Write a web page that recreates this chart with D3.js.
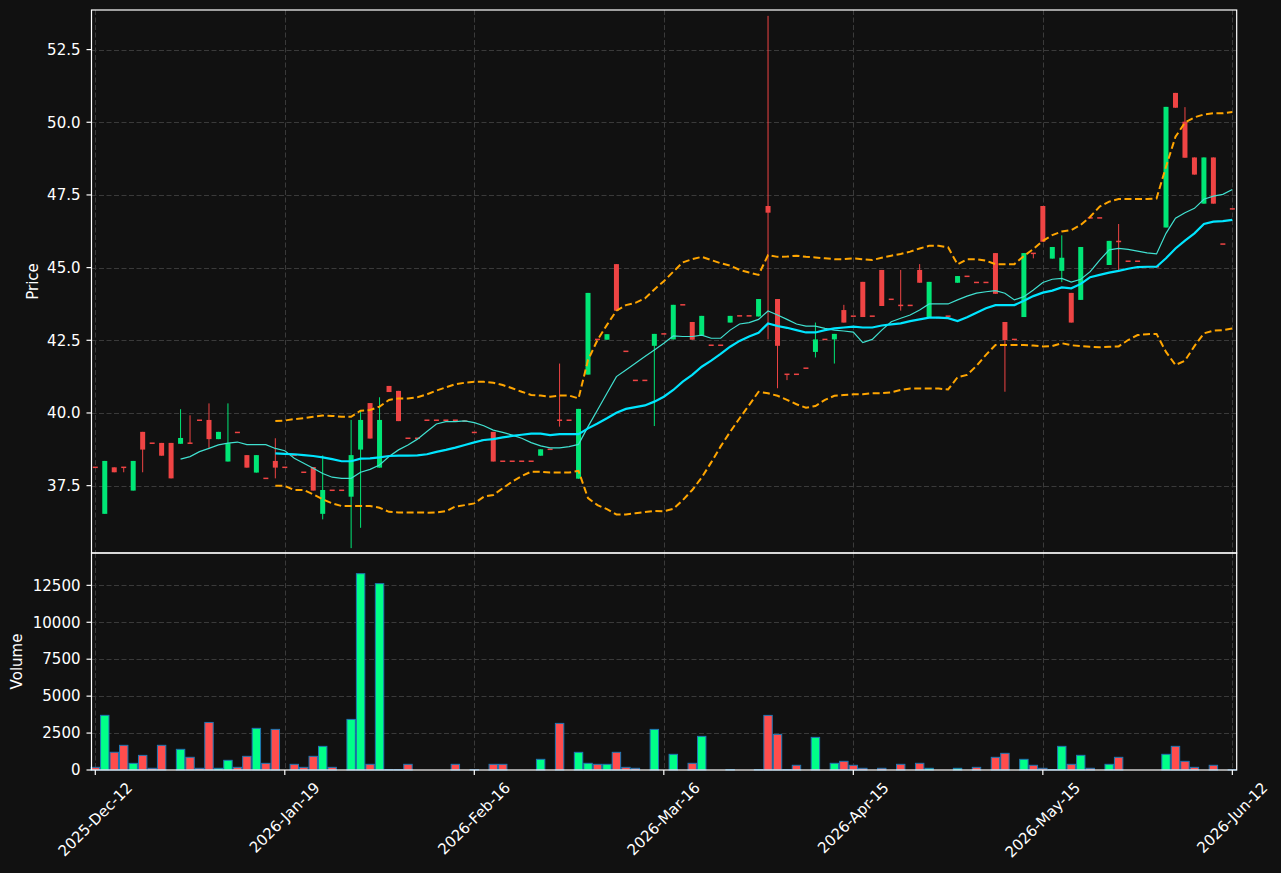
<!DOCTYPE html>
<html>
<head>
<meta charset="utf-8">
<script src="https://cdnjs.cloudflare.com/ajax/libs/d3/7.8.5/d3.min.js"></script>
<style>
  body { margin: 0; background: #111111; }
  #chart { width: 1281px; height: 873px; }
  text { font-family: "DejaVu Sans", sans-serif; }
</style>
</head>
<body>
<div id="chart"></div>
<script>
/*
#################################################
SECTION 1: DATA
#################################################
*/
var tickLabels = ["2025-Dec-12", "2026-Jan-19", "2026-Feb-16", "2026-Mar-16", "2026-Apr-15", "2026-May-15", "2026-Jun-12"];
var tickIndex = [0, 20, 40, 60, 80, 100, 120];
var priceTicks = [37.5, 40.0, 42.5, 45.0, 47.5, 50.0, 52.5];
var volumeTicks = [0, 2500, 5000, 7500, 10000, 12500];

var opens = [38.13,36.53,38.13,38.13,37.33,39.35,38.96,38.97,38.97,38.94,38.96,39.75,39.76,39.10,38.33,39.33,38.55,37.95,37.75,38.35,
  38.13,38.55,37.96,38.14,36.53,37.34,37.34,37.12,38.74,40.34,38.12,40.93,40.76,39.13,39.13,39.75,39.75,39.75,39.75,39.72,
  39.33,39.07,39.35,38.34,38.34,38.34,38.34,38.53,38.75,39.75,39.75,37.74,41.32,42.53,42.52,45.12,42.12,41.12,41.12,42.31,
  42.72,42.53,43.72,43.13,42.68,42.33,42.33,43.11,43.34,43.34,43.32,47.12,43.92,41.33,41.33,41.54,42.10,42.53,42.53,43.54,
  43.33,44.51,43.33,44.92,43.91,43.70,43.70,44.92,43.30,43.28,43.33,44.48,44.70,44.49,44.49,45.50,43.13,42.53,43.30,45.49,
  47.12,45.31,44.89,44.13,43.89,46.71,46.71,45.09,45.90,45.22,45.22,45.03,45.03,46.38,51.01,50.02,48.79,47.20,48.79,45.81,47.02];
var highs = [38.13,38.35,38.13,38.13,38.35,39.35,38.96,38.97,38.97,40.13,39.92,39.75,40.33,39.35,40.33,39.33,38.55,38.55,37.75,39.13,
  38.13,38.55,37.96,38.14,38.54,37.34,37.34,39.76,40.10,40.34,40.54,40.93,40.76,39.13,39.13,39.75,39.75,39.75,39.75,39.72,
  39.33,39.07,39.35,38.34,38.34,38.34,38.34,38.75,38.75,41.70,39.75,40.14,44.13,42.53,42.71,45.12,42.12,41.12,41.12,42.72,
  42.72,43.72,43.72,43.13,43.34,42.33,42.33,43.34,43.34,43.34,43.92,53.66,43.92,41.33,41.33,41.54,43.11,42.53,42.72,43.72,
  43.33,44.51,43.33,44.92,43.91,44.92,43.70,45.12,44.51,43.28,43.33,44.71,44.70,44.49,44.49,45.50,43.13,42.53,45.50,45.49,
  47.12,45.71,46.11,44.13,45.71,46.71,46.71,45.92,46.50,45.22,45.22,45.03,45.03,50.53,51.01,50.52,48.79,48.79,48.79,45.81,47.02];
var lows = [38.13,36.53,37.96,37.96,37.33,37.96,38.96,38.53,37.75,38.94,38.96,39.75,38.78,39.10,38.33,39.33,38.12,37.95,37.75,37.75,
  38.13,38.55,37.96,37.33,36.34,37.34,37.34,35.35,36.05,39.12,38.12,40.72,39.72,39.13,39.13,39.75,39.75,39.75,39.75,39.72,
  39.33,39.07,38.33,38.34,38.34,38.34,38.34,38.53,38.75,39.53,39.75,37.74,41.32,42.53,42.52,43.52,42.12,41.12,41.12,39.55,
  42.72,42.53,43.72,42.52,42.68,42.33,42.33,43.11,43.34,43.34,43.32,42.53,40.85,41.13,41.33,41.54,41.91,42.53,41.70,43.11,
  43.33,43.30,43.33,43.68,43.91,43.52,43.70,44.48,43.30,43.28,43.33,44.48,44.70,44.49,44.49,44.10,40.73,42.53,43.30,45.32,
  45.89,45.31,44.50,43.11,43.89,46.71,46.71,45.09,44.89,45.22,45.22,45.03,45.03,46.38,50.50,48.78,48.20,47.20,47.20,45.81,47.02];
var closes = [38.13,38.35,37.96,38.13,38.35,38.74,38.96,38.53,37.75,39.14,38.96,39.75,39.10,39.35,38.96,39.33,38.12,38.55,37.75,38.12,
  38.13,38.55,37.96,37.33,37.35,37.34,37.34,38.55,39.76,39.12,39.76,40.72,39.72,39.13,39.13,39.75,39.75,39.75,39.75,39.72,
  39.33,39.07,38.33,38.34,38.34,38.34,38.34,38.75,38.75,39.75,39.75,40.14,44.13,42.53,42.71,43.52,42.12,41.12,41.12,42.72,
  42.72,43.72,43.72,42.52,43.34,42.33,42.33,43.34,43.34,43.34,43.92,46.89,42.31,41.33,41.33,41.54,42.53,42.53,42.72,43.11,
  43.33,43.30,43.33,43.68,43.91,43.70,43.70,44.48,44.51,43.28,43.33,44.71,44.70,44.49,44.49,44.10,42.51,42.53,45.50,45.49,
  45.89,45.71,45.34,43.11,45.71,46.71,46.71,45.92,45.90,45.22,45.22,45.03,45.03,50.53,50.50,48.78,48.20,48.79,47.20,45.81,47.02];
var volumes = [180,3700,1200,1670,450,990,115,1670,0,1400,860,115,3220,115,655,180,925,2820,450,2750,
  0,385,180,925,1600,180,0,3425,13290,385,12615,30,30,385,0,0,0,0,385,0,
  20,0,385,385,0,0,0,723,0,3155,0,1196,453,385,385,1196,180,115,0,2750,
  0,1061,0,453,2277,0,0,30,0,0,30,3696,2412,30,318,0,2209,0,453,588,
  318,115,0,115,0,385,0,453,115,0,0,115,0,180,0,858,1128,0,723,318,
  115,30,1601,385,993,115,0,385,858,0,0,0,0,1061,1601,588,180,0,318,0,20];

// moving averages start at index 9 (10-day) and 19 (20-day and bands)
var ma10Start = 9;
var ma10 = [38.41,38.50,38.67,38.78,38.90,38.96,39.00,38.91,38.91,38.91,38.78,
  38.70,38.44,38.27,38.10,37.92,37.79,37.75,37.75,37.96,38.06,38.21,38.50,38.73,38.90,39.10,39.36,39.62,39.70,39.70,39.73,
  39.67,39.56,39.41,39.33,39.24,39.13,38.98,38.87,38.80,38.80,38.84,38.92,39.53,40.10,40.68,41.25,41.48,41.71,41.94,42.17,
  42.40,42.65,42.63,42.63,42.68,42.57,42.57,42.85,43.06,43.11,43.22,43.51,43.37,43.22,43.06,42.99,42.99,42.91,42.85,42.82,
  42.78,42.42,42.53,42.85,43.14,43.26,43.37,43.54,43.75,43.75,43.75,43.89,44.02,44.12,44.17,44.21,44.12,43.89,44.00,44.23,
  44.49,44.60,44.63,44.50,44.60,44.86,45.26,45.61,45.66,45.63,45.57,45.51,45.47,46.18,46.70,46.89,47.04,47.35,47.46,47.52,47.69];
var ma20Start = 19;
var ma20 = [38.61,
  38.59,38.58,38.55,38.52,38.47,38.41,38.34,38.34,38.43,38.44,38.47,38.52,38.53,38.53,38.54,38.58,38.66,38.73,38.81,38.90,
  38.99,39.07,39.10,39.16,39.21,39.25,39.29,39.29,39.24,39.27,39.27,39.27,39.47,39.64,39.82,40.01,40.14,40.20,40.26,40.39,
  40.56,40.79,41.08,41.31,41.59,41.80,42.03,42.28,42.48,42.63,42.76,43.08,42.99,42.93,42.85,42.77,42.77,42.85,42.91,42.94,
  42.97,42.94,42.94,43.01,43.05,43.08,43.16,43.22,43.28,43.28,43.26,43.16,43.29,43.45,43.60,43.71,43.71,43.71,43.86,44.02,
  44.14,44.21,44.32,44.29,44.44,44.67,44.75,44.83,44.89,44.96,45.02,45.03,45.03,45.32,45.66,45.93,46.18,46.50,46.58,46.60,46.64];
var bbUpper = [39.72,
  39.74,39.79,39.82,39.87,39.91,39.90,39.87,39.87,40.08,40.10,40.22,40.45,40.50,40.50,40.54,40.64,40.77,40.88,40.99,41.04,
  41.07,41.07,41.04,40.96,40.85,40.73,40.62,40.60,40.56,40.60,40.60,40.50,41.82,42.51,43.03,43.52,43.71,43.79,43.94,44.25,
  44.53,44.86,45.18,45.29,45.37,45.26,45.15,45.07,44.92,44.83,44.75,45.43,45.37,45.38,45.41,45.37,45.35,45.32,45.29,45.29,
  45.32,45.29,45.26,45.34,45.41,45.47,45.55,45.66,45.75,45.75,45.70,45.11,45.29,45.29,45.24,45.12,45.12,45.12,45.40,45.64,
  45.92,46.12,46.24,46.29,46.47,46.75,47.10,47.27,47.36,47.36,47.36,47.36,47.38,48.47,49.50,49.99,50.17,50.27,50.31,50.31,50.35];
var bbLower = [37.50,
  37.49,37.35,37.35,37.20,37.03,36.89,36.80,36.80,36.80,36.80,36.74,36.60,36.58,36.58,36.58,36.57,36.58,36.62,36.78,36.83,
  36.89,37.12,37.18,37.41,37.64,37.83,37.98,37.98,37.95,37.95,37.95,38.01,37.07,36.83,36.69,36.51,36.51,36.55,36.59,36.63,
  36.62,36.70,37.00,37.35,37.78,38.30,38.85,39.35,39.82,40.27,40.73,40.68,40.59,40.45,40.30,40.18,40.24,40.45,40.59,40.62,
  40.64,40.64,40.68,40.68,40.71,40.79,40.84,40.84,40.84,40.84,40.81,41.23,41.31,41.62,42.00,42.34,42.34,42.34,42.34,42.32,
  42.29,42.30,42.40,42.33,42.30,42.28,42.26,42.28,42.29,42.51,42.68,42.71,42.72,42.10,41.65,41.80,42.30,42.74,42.83,42.85,42.91];

/*
#################################################
SECTION 2: LAYOUT, SCALES
#################################################
*/
var width = 1281, height = 873;
var plotLeft = 91.5, plotRight = 1236.7;
var priceTop = 10, priceBottom = 553, volTop = 553, volBottom = 770;

var colors = {
  bg: '#111111', grid: '#3a3a3a', axis: '#ffffff', text: '#ffffff',
  up: '#00e676', down: '#ef4444', volUp: '#00ff88', volDown: '#ff4d4d', volEdge: '#1f77b4',
  ma10: '#40e0d0', ma20: '#00e5ff', band: '#ffa500'
};

var candles = opens.map(function(o, i) {
  return {i: i, open: o, high: highs[i], low: lows[i], close: closes[i], volume: volumes[i]};
});

var xScale = d3.scaleLinear().domain([-0.4, 120.46]).range([plotLeft, plotRight]);
var yPrice = d3.scaleLinear().domain([35.183, 53.862]).range([priceBottom, priceTop]);
var yVol = d3.scaleLinear().domain([0, 14690]).range([volBottom, volTop]);

var svg = d3.select('#chart').append('svg')
    .attr('width', width)
    .attr('height', height);

svg.append('rect').attr('width', width).attr('height', height).attr('fill', colors.bg);

var defs = svg.append('defs');
defs.append('clipPath').attr('id', 'clipPrice').append('rect')
    .attr('x', plotLeft).attr('y', priceTop).attr('width', plotRight - plotLeft).attr('height', priceBottom - priceTop);

/*
#################################################
SECTION 3: GRID
#################################################
*/
var grid = svg.append('g').attr('stroke', colors.grid).attr('stroke-width', 1).attr('stroke-dasharray', '5,2.5');

tickIndex.forEach(function(t) {
  var x = Math.round(xScale(t)) + 0.5;
  grid.append('line').attr('x1', x).attr('x2', x).attr('y1', priceTop).attr('y2', priceBottom);
  grid.append('line').attr('x1', x).attr('x2', x).attr('y1', volTop).attr('y2', volBottom);
});
priceTicks.forEach(function(p) {
  var y = Math.round(yPrice(p)) + 0.5;
  grid.append('line').attr('x1', plotLeft).attr('x2', plotRight).attr('y1', y).attr('y2', y);
});
volumeTicks.slice(1).forEach(function(v) {
  var y = Math.round(yVol(v)) + 0.5;
  grid.append('line').attr('x1', plotLeft).attr('x2', plotRight).attr('y1', y).attr('y2', y);
});

/*
#################################################
SECTION 4: CANDLES AND VOLUME
#################################################
*/
var bodyW = 5, barW = 8.4;
function candleColor(d) { return d.close > d.open ? colors.up : colors.down; }

var priceG = svg.append('g').attr('clip-path', 'url(#clipPrice)');

priceG.selectAll('.wick').data(candles.filter(function(d) { return d.high > d.low; }))
  .enter().append('line')
    .attr('x1', function(d) { return xScale(d.i); })
    .attr('x2', function(d) { return xScale(d.i); })
    .attr('y1', function(d) { return yPrice(d.high); })
    .attr('y2', function(d) { return yPrice(d.low); })
    .attr('stroke', candleColor)
    .attr('stroke-width', 1);

priceG.selectAll('.body').data(candles)
  .enter().append('rect')
    .attr('x', function(d) { return xScale(d.i) - bodyW / 2; })
    .attr('y', function(d) {
      var top = yPrice(Math.max(d.open, d.close)), bot = yPrice(Math.min(d.open, d.close));
      return bot - top < 1.5 ? (top + bot) / 2 - 0.75 : top;
    })
    .attr('width', bodyW)
    .attr('height', function(d) { return Math.max(1.5, Math.abs(yPrice(d.open) - yPrice(d.close))); })
    .attr('fill', candleColor);

svg.append('g').selectAll('rect').data(candles.filter(function(d) { return d.volume > 0; }))
  .enter().append('rect')
    .attr('x', function(d) { return xScale(d.i) - barW / 2; })
    .attr('y', function(d) { return yVol(d.volume); })
    .attr('width', barW)
    .attr('height', function(d) { return yVol(0) - yVol(d.volume); })
    .attr('fill', function(d) { return d.close > d.open ? colors.volUp : colors.volDown; })
    .attr('stroke', colors.volEdge)
    .attr('stroke-width', 1);

/*
#################################################
SECTION 5: MOVING AVERAGES AND BANDS (drawn over the candles)
#################################################
*/
function series(values, start) {
  return values.map(function(v, k) { return {i: start + k, v: v}; });
}
var line = d3.line()
    .x(function(d) { return xScale(d.i); })
    .y(function(d) { return yPrice(d.v); });

priceG.append('path').datum(series(ma10, ma10Start))
    .attr('d', line).attr('fill', 'none').attr('stroke', colors.ma10).attr('stroke-width', 1.2);
priceG.append('path').datum(series(ma20, ma20Start))
    .attr('d', line).attr('fill', 'none').attr('stroke', colors.ma20).attr('stroke-width', 2.2);
[bbUpper, bbLower].forEach(function(b) {
  priceG.append('path').datum(series(b, ma20Start))
      .attr('d', line).attr('fill', 'none').attr('stroke', colors.band)
      .attr('stroke-width', 2).attr('stroke-dasharray', '7,3.5');
});

/*
#################################################
SECTION 6: AXES, FRAMES, LABELS
#################################################
*/
var frame = svg.append('g').attr('fill', 'none').attr('stroke', colors.axis).attr('stroke-width', 1.2);
frame.append('rect').attr('x', plotLeft).attr('y', priceTop).attr('width', plotRight - plotLeft).attr('height', priceBottom - priceTop);
frame.append('rect').attr('x', plotLeft).attr('y', volTop).attr('width', plotRight - plotLeft).attr('height', volBottom - volTop);

var fontSize = 15;
var labels = svg.append('g').attr('fill', colors.text).style('font-size', fontSize + 'px');

priceTicks.forEach(function(p) {
  var y = yPrice(p);
  frame.append('line').attr('x1', plotLeft - 5).attr('x2', plotLeft).attr('y1', y).attr('y2', y);
  labels.append('text').attr('x', plotLeft - 11).attr('y', y).attr('dy', '0.35em')
      .attr('text-anchor', 'end').text(p.toFixed(1));
});
volumeTicks.forEach(function(v) {
  var y = yVol(v);
  frame.append('line').attr('x1', plotLeft - 5).attr('x2', plotLeft).attr('y1', y).attr('y2', y);
  labels.append('text').attr('x', plotLeft - 11).attr('y', y).attr('dy', '0.35em')
      .attr('text-anchor', 'end').text(v);
});

// rotated date labels, bbox centred under the tick like matplotlib rotation=45
tickIndex.forEach(function(t, k) {
  var x = xScale(t);
  frame.append('line').attr('x1', x).attr('x2', x).attr('y1', volBottom).attr('y2', volBottom + 5);
  var txt = labels.append('text').attr('text-anchor', 'middle').attr('dominant-baseline', 'central').text(tickLabels[k]);
  var L = txt.node().getComputedTextLength();
  var H = (L + fontSize * 1.16) * Math.SQRT1_2;
  var cy = volBottom + 9 + H / 2;
  txt.attr('x', x).attr('y', cy).attr('transform', 'rotate(-45,' + x + ',' + cy + ')');
});

labels.append('text').attr('transform', 'translate(33,' + (priceTop + priceBottom) / 2 + ') rotate(-90)')
    .attr('text-anchor', 'middle').attr('dy', '0.35em').text('Price');
labels.append('text').attr('transform', 'translate(17,' + (volTop + volBottom) / 2 + ') rotate(-90)')
    .attr('text-anchor', 'middle').attr('dy', '0.35em').text('Volume');
</script>
</body>
</html>
